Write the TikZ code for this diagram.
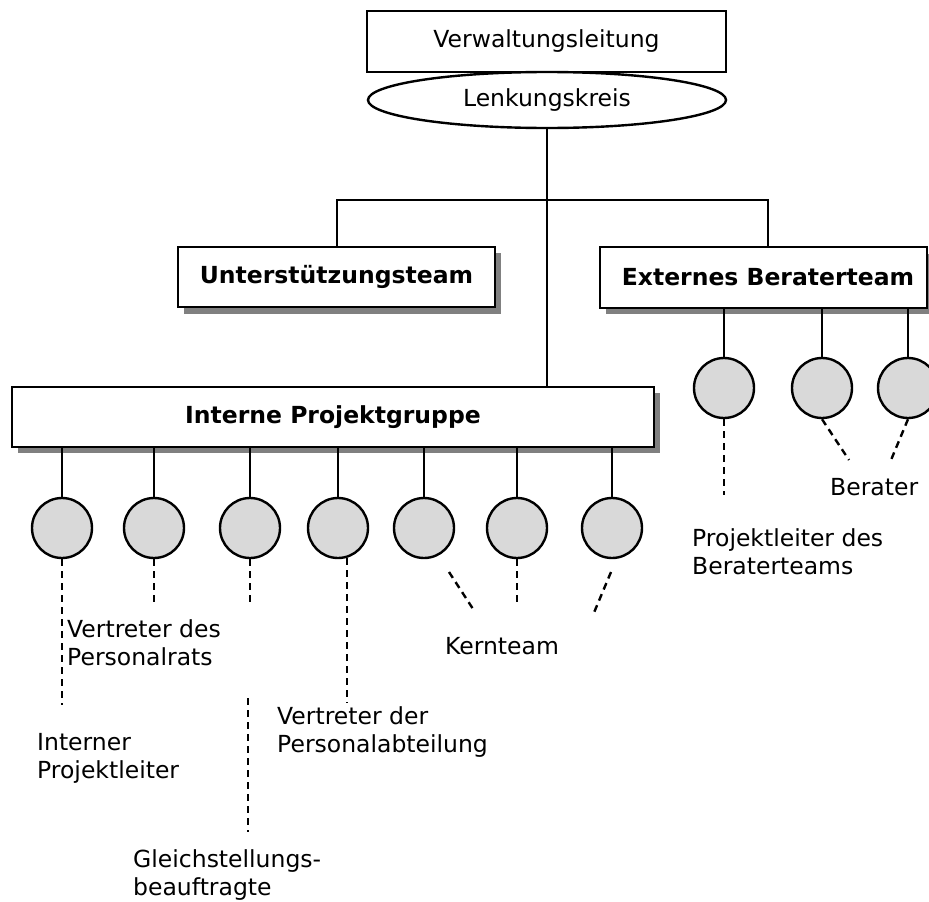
\documentclass[tikz,border=0pt]{standalone}
\usepackage{fontspec}
\setmainfont{DejaVu Sans}
\usetikzlibrary{shapes.geometric}
\definecolor{bubble}{HTML}{D9D9D9}
\definecolor{boxshadow}{HTML}{808080}
\begin{document}
\begin{tikzpicture}[x=1pt,y=-1pt,
  every node/.style={font=\fontsize{23.5}{28}\selectfont},
  line/.style={line width=2.4pt},
  dline/.style={line width=2.4pt,dash pattern=on 7pt off 5pt},
  plainbox/.style={draw,line width=2.4pt,fill=white,rectangle,inner sep=0pt},
  teambox/.style={plainbox,font=\fontsize{23.5}{28}\selectfont\bfseries},
  member/.style={draw,line width=2.4pt,fill=bubble,circle,minimum size=60pt,inner sep=0pt},
  label/.style={align=left,inner sep=0pt}]
\useasboundingbox (0,0) rectangle (929,902);

% top level
\node[plainbox,minimum width=359pt,minimum height=61pt] (vl) at (546.5,41.5) {Verwaltungsleitung};
\node[draw,line width=2.4pt,fill=white,ellipse,minimum width=358pt,minimum height=56pt,inner sep=0pt] (lk) at (547,100) {Lenkungskreis};

% drop shadows of the team boxes
\fill[boxshadow] (184,253) rectangle (501,314);
\fill[boxshadow] (606,254) rectangle (935,314);
\fill[boxshadow] (18,393) rectangle (660,453);

% team boxes
\node[teambox,minimum width=317pt,minimum height=60pt] (ut) at (336.5,277) {Unterstützungsteam};
\node[teambox,minimum width=327pt,minimum height=61pt] (eb) at (763.5,277.5) {\hspace*{9pt}Externes Beraterteam};
\node[teambox,minimum width=642pt,minimum height=60pt] (ip) at (333,417) {Interne Projektgruppe};

% branching under the steering circle
\coordinate (hubL) at (337,200);
\coordinate (hubR) at (768,200);
\draw[line] (lk.south) -- (ip.north -| lk.south);
\draw[line] (ut.north -| hubL) -- (hubL) -- (hubR) -- (eb.north -| hubR);

% members of the internal project group
\foreach \i/\x in {1/62,2/154,3/250,4/338,5/424,6/517,7/612}{
  \node[member] (c\i) at (\x,528) {};
  \draw[line] (c\i |- ip.south) -- (c\i.north);
}

% external consultants
\foreach \i/\x in {1/724,2/822,3/908}{
  \node[member] (b\i) at (\x,388) {};
  \draw[line] (b\i |- eb.south) -- (b\i.north);
}

% free ends of the dashed pointers
\coordinate (e1) at (62,705);
\coordinate (e2) at (154,602);
\coordinate (e3) at (250,602);
\coordinate (s4) at (347,558);
\coordinate (e4) at (347,703);
\coordinate (s5) at (449,572);
\coordinate (e5) at (475,612);
\coordinate (e6) at (517,602);
\coordinate (s7) at (611,572);
\coordinate (e7) at (593,615);
\coordinate (g1) at (248,698);
\coordinate (g2) at (248,832);
\coordinate (f1) at (724,495);
\coordinate (t2) at (849,460);
\coordinate (t3) at (891,460);

\draw[dline] (c1.south) -- (e1);
\draw[dline] (c2.south) -- (e2);
\draw[dline] (c3.south) -- (e3);
\draw[dline] (s4) -- (e4);
\draw[dline] (s5) -- (e5);
\draw[dline] (c6.south) -- (e6);
\draw[dline] (s7) -- (e7);
\draw[dline] (g1) -- (g2);
\draw[dline] (b1.south) -- (f1);
\draw[dline] (b2.south) -- (t2);
\draw[dline] (b3.south) -- (t3);

% role labels
\node[label,anchor=west] (lpr) at (67,643) {Vertreter des\\Personalrats};
\node[label] (lkt) at (502,646) {Kernteam};
\node[label,anchor=west] (lipl) at (37,758) {Interner\\Projektleiter};
\node[label,anchor=west] (lpa) at (277,732) {Vertreter der\\Personalabteilung};
\node[label,anchor=west] (lgb) at (133,875) {Gleichstellungs-\\beauftragte};
\node[label,anchor=west] (lbe) at (830,487) {Berater};
\node[label,anchor=west] (lplb) at (692,552) {Projektleiter des\\Beraterteams};
\end{tikzpicture}
\end{document}
